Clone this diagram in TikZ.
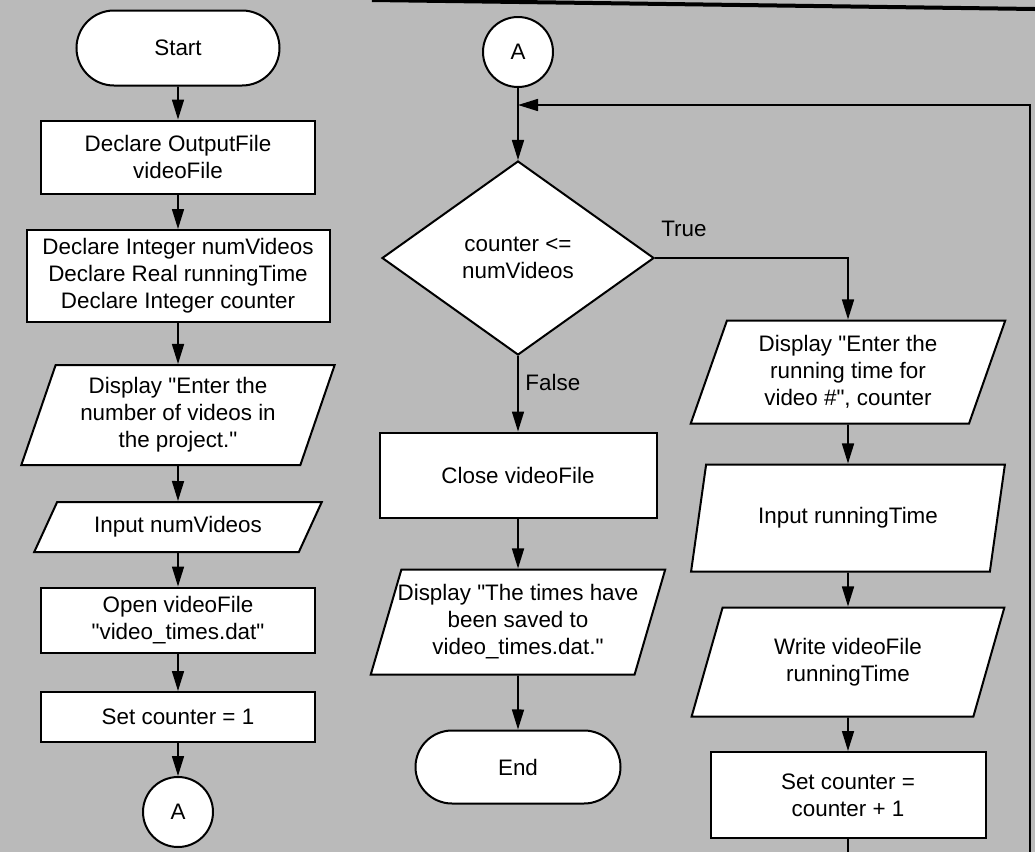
\documentclass[tikz,border=0pt]{standalone}
\usepackage{fontspec}
\setmainfont{Liberation Sans}[Ligatures=TeXOff]
\usetikzlibrary{shapes.geometric,shapes.misc,arrows.meta}
\definecolor{fundo}{RGB}{186,186,186}

\begin{document}
\begin{tikzpicture}[x=0.5pt,y=-0.5pt]
\tikzset{
    >={Triangle[length=10pt,width=6pt]},
    seta/.style={->, line width=0.8pt},
    base/.style={draw=black, line width=1pt, fill=white, align=center, inner sep=2pt,
                 font=\fontsize{11.2}{13.5}\selectfont},
    terminal/.style={base, rounded rectangle, minimum width=105.5pt, minimum height=37.5pt},
    processo/.style={base, rectangle, minimum width=137pt},
    entrada/.style={base, trapezium, trapezium left angle=71, trapezium right angle=109,
                    trapezium stretches=true, minimum width=157pt},
    decisao/.style={base, diamond, minimum width=136pt, minimum height=97pt},
    conector/.style={base, circle, minimum size=35pt},
    rotulo/.style={font=\fontsize{11.2}{13.5}\selectfont}
}

% Fundo
\useasboundingbox (0,0) rectangle (1035,852);
\clip (0,0) rectangle (1035,852);
\fill[fundo] (0,0) rectangle (1035,852);
\draw[line width=2pt] (372,0) -- (1035,9);

% Coluna esquerda
\node[terminal] (inicio) at (178,48) {Start};
\node[processo, minimum height=36.5pt] (decl1) at (178,157) {Declare OutputFile\\videoFile};
\node[processo, minimum width=151.5pt, minimum height=46pt] (decl2) at (178,276)
    {Declare Integer numVideos\\Declare Real runningTime\\Declare Integer counter};
\node[entrada, minimum height=50pt] (disp1) at (178,415)
    {Display "Enter the\\number of videos in\\the project."};
\node[entrada, trapezium left angle=60, trapezium right angle=120,
      minimum width=144pt, minimum height=25pt] (inp1) at (178,527) {Input numVideos};
\node[processo, minimum height=32.5pt] (abrir) at (178,620) {Open videoFile\\"video\_times.dat"};
\node[processo, minimum height=25pt] (cont1) at (178,717) {Set counter = 1};
\node[conector] (conA1) at (178,812) {A};

% Coluna central
\node[conector] (conA2) at (518,52) {A};
\coordinate (juncao) at (518,105);
\node[decisao] (teste) at (518,258) {counter <=\\numVideos};
\node[processo, minimum width=138.5pt, minimum height=42.5pt] (fechar) at (518,475) {Close videoFile};
\node[entrada, minimum width=147.5pt, minimum height=52.5pt, inner xsep=-6pt] (disp2) at (518,622)
    {Display "The times have\\been saved to\\video\_times.dat."};
\node[terminal, minimum width=106.5pt, minimum height=36.5pt] (fim) at (518,767) {End};

% Coluna direita
\node[entrada, minimum width=157.5pt, minimum height=51.5pt] (disp3) at (848,372)
    {Display "Enter the\\running time for\\video \#", counter};
\node[entrada, minimum height=53.5pt] (inp2) at (848,518) {Input runningTime};
\node[entrada, minimum width=158pt, minimum height=54.5pt] (grava) at (848,662)
    {Write videoFile\\runningTime};
\node[processo, minimum width=137.5pt, minimum height=43pt] (incr) at (848,795)
    {Set counter =\\counter + 1};

% Ligações
\draw[seta] (inicio) -- (decl1);
\draw[seta] (decl1) -- (decl2);
\draw[seta] (decl2) -- (disp1);
\draw[seta] (disp1) -- (inp1);
\draw[seta] (inp1) -- (abrir);
\draw[seta] (abrir) -- (cont1);
\draw[seta] (cont1) -- (conA1);

\draw[seta] (conA2) -- (teste);
\draw[seta] (teste.east) -| node[rotulo, pos=0.075, above=7pt] {True} (disp3.north);
\draw[seta] (teste) -- node[rotulo, right, pos=0.35] {False} (fechar);
\draw[seta] (fechar) -- (disp2);
\draw[seta] (disp2) -- (fim);

\draw[seta] (disp3) -- (inp2);
\draw[seta] (inp2) -- (grava);
\draw[seta] (grava) -- (incr);
\draw[seta] (incr) -- ++(0,60) -| (1030,105) -- (juncao);
\end{tikzpicture}
\end{document}
